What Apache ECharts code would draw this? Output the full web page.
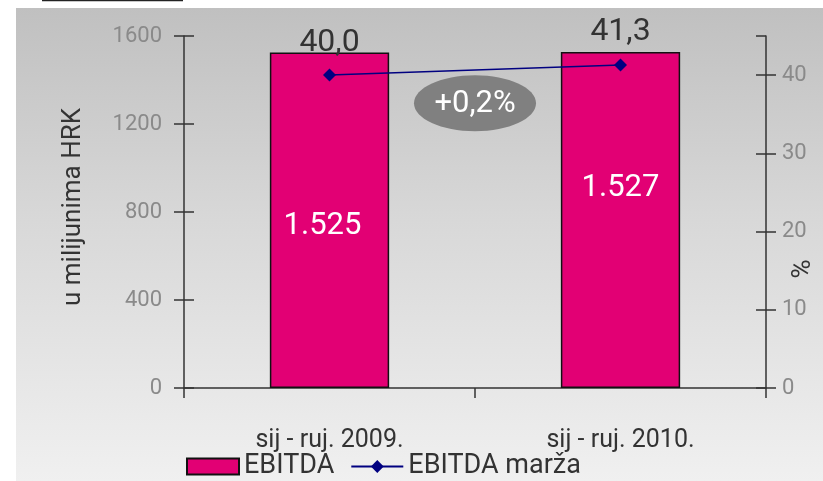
<!DOCTYPE html>
<html>
<head>
<meta charset="utf-8">
<script src="https://cdn.jsdelivr.net/npm/echarts@6/dist/echarts.min.js"></script>
<style>
html,body{margin:0;padding:0;background:#fff;}
#c{width:823px;height:481px;}
</style>
</head>
<body>
<div id="c"></div>
<script>
const categories = ['sij - ruj. 2009.', 'sij - ruj. 2010.'];
const ebitda = [1525, 1527];
const margin = [40.0, 41.3];
const changeLabel = '+0,2%';
const leftTicks = { min: 0, max: 1600, interval: 400 };
const rightTicks = { min: 0, max: 45, interval: 10 };

const FONT = 'Roboto';
const AXIS = '#333333';
const chart = echarts.init(document.getElementById('c'), null, { renderer: 'canvas' });

function yAx(pos, r, inside, showLabel, extra) {
  return Object.assign({
    type: 'value', position: pos, min: r.min, max: r.max, interval: r.interval,
    axisLine: { show: !inside, lineStyle: { color: AXIS, width: 1.5 } },
    axisTick: { show: true, inside: inside, length: 10, lineStyle: { color: AXIS, width: 1.5 } },
    axisLabel: { show: showLabel, color: '#8a8a8a', fontSize: 22, fontFamily: FONT },
    splitLine: { show: false }
  }, extra || {});
}

const option = {
  animation: false,
  backgroundColor: '#ffffff',
  textStyle: { fontFamily: FONT },
  grid: { left: 184, right: 57, top: 36, bottom: 93, containLabel: false, outerBoundsMode: 'none' },
  graphic: [
    { type: 'rect', z: -100, silent: true, shape: { x: 16, y: 8, width: 807, height: 473 },
      style: { fill: new echarts.graphic.LinearGradient(0, 0, 0, 1, [
        { offset: 0, color: '#c0c0c0' }, { offset: 0.45, color: '#d8d8d8' }, { offset: 1, color: '#f0f0f0' }]) } },
    { type: 'line', z: 10, silent: true, shape: { x1: 42, y1: 0.5, x2: 183, y2: 0.5 }, style: { stroke: '#222', lineWidth: 1.5 } }
  ],
  xAxis: {
    type: 'category', data: categories,
    axisLine: { lineStyle: { color: AXIS, width: 1.5 } },
    axisTick: { show: true, length: 10, lineStyle: { color: AXIS, width: 1.5 } },
    axisLabel: { color: '#333', fontSize: 25, fontFamily: FONT, margin: 40 }
  },
  yAxis: [
    yAx('left', leftTicks, false, true, {
      name: 'u milijunima HRK', nameLocation: 'middle', nameRotate: 90, nameGap: 98, nameMoveOverlap: false,
      nameTextStyle: { color: '#333', fontSize: 26, fontFamily: FONT, padding: [0, 0, 0, 10] },
      axisLabel: { show: true, color: '#8a8a8a', fontSize: 22, fontFamily: FONT, margin: 22, formatter: v => String(v) }
    }),
    yAx('right', rightTicks, false, true, {
      name: '%', nameLocation: 'middle', nameRotate: 90, nameGap: 24, nameMoveOverlap: false,
      nameTextStyle: { color: '#333', fontSize: 26, fontFamily: FONT, padding: [0, 114, 0, 0] },
      axisLabel: { show: true, color: '#8a8a8a', fontSize: 22, fontFamily: FONT, margin: 16, showMaxLabel: false, formatter: v => String(v) }
    }),
    yAx('left', leftTicks, true, false),
    yAx('right', rightTicks, true, false)
  ],
  legend: {
    left: 181, bottom: -4, itemWidth: 52, itemHeight: 16, itemGap: 16,
    textStyle: { color: '#333', fontSize: 27, fontFamily: FONT, padding: [0, 0, 0, 0] },
    data: [{ name: 'EBITDA', icon: 'rect' }, { name: 'EBITDA marža' }]
  },
  series: [
    {
      name: 'EBITDA', type: 'bar', yAxisIndex: 0, barWidth: '41%',
      itemStyle: { color: '#e20074', borderColor: '#111', borderWidth: 1.5 },
      label: { show: true, position: 'inside', color: '#fff', fontSize: 31, fontFamily: FONT,
        formatter: p => p.value.toLocaleString('de-DE') },
      data: ebitda.map((v, i) => ({ value: v, label: { offset: i === 0 ? [-7, 6] : [0, -32] } }))
    },
    {
      name: 'EBITDA marža', type: 'line', yAxisIndex: 1, z: 5,
      symbol: 'diamond', symbolSize: 13,
      lineStyle: { color: '#000080', width: 1.5 },
      itemStyle: { color: '#000080' },
      label: { show: true, position: 'top', distance: 10, color: '#333', fontSize: 32, fontFamily: FONT,
        formatter: p => p.value.toFixed(1).replace('.', ',') },
      data: margin
    }
  ]
};
chart.setOption(option);

// annotation ellipse between the two categories
const p0 = chart.convertToPixel({ xAxisIndex: 0, yAxisIndex: 1 }, [0, 36.4]);
const p1 = chart.convertToPixel({ xAxisIndex: 0, yAxisIndex: 1 }, [1, 36.4]);
const cx = (p0[0] + p1[0]) / 2, cy = p0[1];
chart.setOption({
  graphic: [
    option.graphic[0], option.graphic[1],
    { type: 'ellipse', z: 20, silent: true, shape: { cx: cx, cy: cy, rx: 61, ry: 28 }, style: { fill: '#808080' } },
    { type: 'text', z: 21, silent: true, x: cx, y: cy + 1,
      style: { text: changeLabel, fill: '#fff', fontSize: 31, fontFamily: FONT, align: 'center', verticalAlign: 'middle' } }
  ]
});
</script>
</body>
</html>
